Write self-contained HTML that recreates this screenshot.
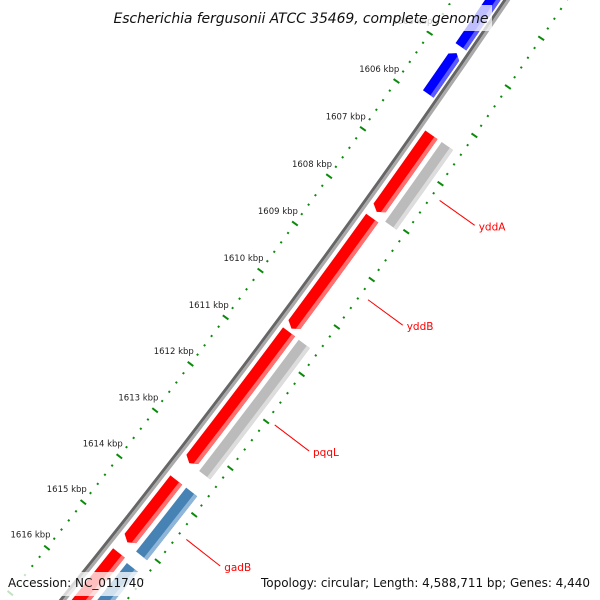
<!DOCTYPE html>
<html><head><meta charset="utf-8"><style>
html,body{margin:0;padding:0;background:#fff;width:600px;height:600px;overflow:hidden;}
svg{display:block;}
text{font-family:"DejaVu Sans","Liberation Sans",sans-serif;}
</style></head><body>
<svg id="map" width="600" height="600" viewBox="0 0 600 600" xmlns="http://www.w3.org/2000/svg">
<rect width="600" height="600" fill="#fff"/>
<g id="rulers"></g>
<g id="backbone"></g>
<g id="features"></g>
<g id="labels"></g>
<rect x="110" y="5" width="382" height="26" fill="#fff" fill-opacity="0.75"/>
<text x="301" y="23" text-anchor="middle" font-size="14" font-style="italic" fill="#111" textLength="375">Escherichia fergusonii ATCC 35469, complete genome</text>
<rect x="4" y="572" width="146" height="24" fill="#fff" fill-opacity="0.75"/>
<text x="8" y="587" font-size="12" fill="#111" textLength="136">Accession: NC_011740</text>
<rect x="256" y="572" width="340" height="24" fill="#fff" fill-opacity="0.75"/>
<text x="261" y="587" font-size="12" fill="#111" textLength="329">Topology: circular; Length: 4,588,711 bp; Genes: 4,440</text>
</svg>
<script>
// data
const geneStart  = [1600.0, 1605.02, 1606.41, 1608.15, 1610.55, 1613.72, 1615.30, 1606.41, 1610.56, 1613.72, 1615.35];
const geneEnd    = [1604.89, 1605.87, 1608.02, 1610.48, 1613.36, 1615.07, 1620.0, 1608.07, 1613.36, 1615.10, 1620.0];
const geneStrand = [-1, -1, 1, 1, 1, 1, 1, 0, 0, 0, 0];
const geneTrack  = [0, 0, 1, 1, 1, 1, 1, 2, 2, 2, 2];
const geneColor  = ["#0000ff","#0000ff","#ff0000","#ff0000","#ff0000","#ff0000","#ff0000","#bbbbbb","#bbbbbb","#4682b4","#4682b4"];
const geneLight  = ["#5a5aff","#5a5aff","#ff7070","#ff7070","#ff7070","#ff7070","#ff7070","#dddddd","#dddddd","#8fb6d8","#8fb6d8"];
const labelNames = ["yddA","yddB","pqqL","gadB"];
const labelGene  = [7, 3, 8, 9];
const rulerFrom = 1600, rulerTo = 1620;
const tickLabels = [1600,1601,1602,1603,1604,1605,1606,1607,1608,1609,1610,1611,1612,1613,1614,1615,1616];

// geometry
const CX = -6703.6, CY = -4872;
const R_BB = 8702, R_RULER_IN = 8657, R_RULER_OUT = 8752;
const TRACKS = [[8684, 8697], [8709, 8724], [8729, 8743]];
const NS = "http://www.w3.org/2000/svg";
function ang(k){ return (34.90 + (k - 1606) * 0.386) * Math.PI / 180; }
function pt(r, a){ return [CX + r * Math.cos(a), CY + r * Math.sin(a)]; }
function mk(tag, attrs, parent){
  const e = document.createElementNS(NS, tag);
  for (const k in attrs) e.setAttribute(k, attrs[k]);
  parent.appendChild(e); return e;
}
function f(v){ return v.toFixed(2); }
function arcPath(r1, r2, a1, a2, strand){
  const head = 5 / ((r1 + r2) / 2);
  const rm = (r1 + r2) / 2;
  let b1 = a1, b2 = a2, tip = null;
  if (strand === 1){ b2 = Math.max(a1, a2 - head); tip = pt(rm, a2); }
  if (strand === -1){ b1 = Math.min(a2, a1 + head); tip = pt(rm, a1); }
  const p1 = pt(r2, b1), p2 = pt(r2, b2), p3 = pt(r1, b2), p4 = pt(r1, b1);
  let d = "M" + f(p1[0]) + "," + f(p1[1]) + " A" + r2 + "," + r2 + " 0 0 1 " + f(p2[0]) + "," + f(p2[1]);
  if (strand === 1) d += " L" + f(tip[0]) + "," + f(tip[1]);
  d += " L" + f(p3[0]) + "," + f(p3[1]) + " A" + r1 + "," + r1 + " 0 0 0 " + f(p4[0]) + "," + f(p4[1]);
  if (strand === -1) d += " L" + f(tip[0]) + "," + f(tip[1]);
  return d + " Z";
}

// rulers
const rg = document.getElementById("rulers");
for (let i = 0; i <= (rulerTo - rulerFrom) * 5; i++){
  const k = rulerFrom + i / 5;
  const major = (i % 5 === 0);
  const a = ang(k);
  [R_RULER_IN, R_RULER_OUT].forEach(function(r, j){
    const half = major ? 3.5 : 1;
    const p1 = pt(r - half, a), p2 = pt(r + half, a);
    const ln = mk("line", {x1:f(p1[0]), y1:f(p1[1]), x2:f(p2[0]), y2:f(p2[1]), stroke:"#0a8a0a", "stroke-width":2}, rg);
    
    
  });
}
tickLabels.forEach(function(k){
  const p = pt(R_RULER_IN - 21, ang(k));
  const t = mk("text", {x:f(p[0]), y:f(p[1] + 3), "text-anchor":"middle", "font-size":"8.5", fill:"#222"}, rg);
  t.textContent = k + " kbp";
  
  
});

// backbone
const bg = document.getElementById("backbone");
const aA = ang(rulerFrom), aB = ang(rulerTo);
[[R_BB - 1.5, "#666", 3], [R_BB + 1.5, "#aaa", 3]].forEach(function(s){
  const p1 = pt(s[0], aA), p2 = pt(s[0], aB);
  const e = mk("path", {d:"M" + f(p1[0]) + "," + f(p1[1]) + " A" + s[0] + "," + s[0] + " 0 0 1 " + f(p2[0]) + "," + f(p2[1]), fill:"none", stroke:s[1], "stroke-width":s[2]}, bg);
  
  
});

// features
const fg = document.getElementById("features");
for (let i = 0; i < geneStart.length; i++){
  const tr = TRACKS[geneTrack[i]];
  const a1 = ang(geneStart[i]), a2 = ang(geneEnd[i]);
  const g = mk("g", {}, fg);
  
  
  mk("path", {d:arcPath(tr[0], tr[1], a1, a2, geneStrand[i]), fill:geneColor[i]}, g);
  const strip = mk("path", {d:arcPath(tr[1] - 4, tr[1], a1, a2, 0), fill:geneLight[i]}, g);
  const clip = document.createElementNS(NS, "clipPath");
  clip.setAttribute("id", "c" + i);
  mk("path", {d:arcPath(tr[0], tr[1], a1, a2, geneStrand[i])}, clip);
  g.appendChild(clip);
  strip.setAttribute("clip-path", "url(#c" + i + ")");
}

// labels
const lg = document.getElementById("labels");
labelNames.forEach(function(n, j){
  const gi = labelGene[j];
  const a = ang((geneStart[gi] + geneEnd[gi]) / 2);
  const p1 = pt(8761, a), p2 = pt(8804, a);
  const ln = mk("line", {x1:f(p1[0]), y1:f(p1[1]), x2:f(p2[0]), y2:f(p2[1]), stroke:"#ff0000", "stroke-width":1}, lg);
  
  
  const t = mk("text", {x:f(p2[0] + 4), y:f(p2[1] + 5), "font-size":"10.5", fill:"#ff0000"}, lg);
  t.textContent = n;
  
  
});
</script>
</body></html>
